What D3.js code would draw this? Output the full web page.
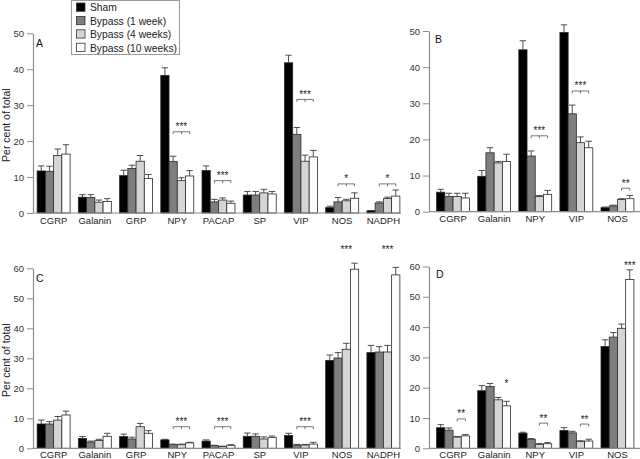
<!DOCTYPE html>
<html><head><meta charset="utf-8">
<script src="https://cdn.jsdelivr.net/npm/d3@7"></script>
<style>
body{margin:0;background:#fff}
svg{display:block}
text{font-family:"Liberation Sans",Arial,Helvetica,sans-serif}
</style>
</head><body>
<svg id="chart" width="640" height="459"></svg>
<script>
// ---------- data ----------
const seriesNames = ["Sham", "Bypass (1 week)", "Bypass (4 weeks)", "Bypass (10 weeks)"];
const seriesColors = ["#000000", "#7e7e7e", "#d5d5d5", "#ffffff"];

const categoriesAC = ["CGRP", "Galanin", "GRP", "NPY", "PACAP", "SP", "VIP", "NOS", "NADPH"];
const categoriesBD = ["CGRP", "Galanin", "NPY", "VIP", "NOS"];

// Panel A
const shamA  = [11.7, 4.4, 10.4, 38.3, 11.8, 5.0, 41.8, 1.5, 0.6];
const wk1A   = [11.6, 4.3, 12.4, 14.3, 3.1, 5.0, 21.9, 3.1, 2.8];
const wk4A   = [16.0, 3.0, 14.4, 9.0, 3.6, 5.6, 14.4, 3.4, 4.0];
const wk10A  = [16.4, 3.2, 9.6, 10.3, 2.7, 5.3, 15.6, 4.1, 4.7];
const shamA_sem = [1.4, 0.7, 1.5, 2.1, 1.3, 1.0, 2.1, 0.4, 0.1];
const wk1A_sem  = [1.4, 0.8, 0.9, 1.5, 0.7, 1.0, 1.9, 1.2, 0.3];
const wk4A_sem  = [1.8, 0.6, 1.6, 0.8, 0.6, 1.0, 1.7, 0.4, 0.4];
const wk10A_sem = [2.6, 0.8, 1.1, 1.5, 0.6, 0.7, 1.8, 1.5, 1.7];

// Panel B
const shamB  = [5.4, 9.8, 44.8, 49.6, 1.1];
const wk1B   = [4.2, 16.3, 15.4, 27.1, 1.6];
const wk4B   = [4.2, 13.5, 4.2, 19.1, 3.4];
const wk10B  = [3.8, 13.9, 4.8, 17.7, 3.6];
const shamB_sem = [0.8, 1.6, 2.5, 2.1, 0.2];
const wk1B_sem  = [0.9, 1.4, 1.4, 2.4, 0.2];
const wk4B_sem  = [0.9, 0.4, 0.3, 1.6, 0.2];
const wk10B_sem = [1.3, 2.0, 1.1, 1.8, 0.9];

// Panel C
const shamC  = [8.1, 3.3, 3.9, 2.8, 2.4, 4.0, 4.3, 29.3, 31.9];
const wk1C   = [8.1, 2.1, 3.1, 1.2, 0.9, 4.0, 1.1, 30.1, 32.1];
const wk4C   = [9.4, 2.6, 7.2, 1.2, 0.6, 3.1, 1.1, 33.0, 32.1];
const wk10C  = [11.1, 4.0, 5.0, 1.8, 1.0, 3.6, 1.4, 59.7, 57.8];
const shamC_sem = [1.3, 0.6, 0.8, 0.2, 0.4, 1.1, 0.7, 1.8, 2.4];
const wk1C_sem  = [0.8, 0.3, 0.6, 0.2, 0.1, 0.8, 0.2, 1.8, 1.8];
const wk4C_sem  = [1.2, 0.4, 1.1, 0.2, 0.1, 0.7, 0.2, 2.0, 2.2];
const wk10C_sem = [1.3, 1.0, 0.9, 0.2, 0.2, 0.5, 0.6, 2.0, 2.5];

// Panel D
const shamD  = [6.8, 19.0, 5.0, 5.9, 33.6];
const wk1D   = [6.0, 20.4, 3.0, 5.1, 36.7];
const wk4D   = [3.7, 16.0, 1.3, 2.3, 39.6];
const wk10D  = [4.1, 14.0, 1.5, 2.4, 55.7];
const shamD_sem = [1.0, 1.7, 0.3, 0.9, 2.2];
const wk1D_sem  = [0.7, 1.0, 0.2, 0.5, 1.5];
const wk4D_sem  = [0.2, 0.8, 0.3, 0.2, 1.4];
const wk10D_sem = [0.4, 1.5, 0.4, 0.6, 3.2];

const yTicks50 = [0, 10, 20, 30, 40, 50];
const yTicks60 = [0, 10, 20, 30, 40, 50, 60];

// significance marks: category, first and last series, level (data units), label, bracket?
const sigA = [
  {cat: "NPY",   from: 1, to: 3, level: 22.6, label: "***", bracket: true},
  {cat: "PACAP", from: 1, to: 3, level: 9.0,  label: "***", bracket: true},
  {cat: "VIP",   from: 1, to: 3, level: 31.6, label: "***", bracket: true},
  {cat: "NOS",   from: 1, to: 3, level: 8.1,  label: "*",   bracket: true},
  {cat: "NADPH", from: 1, to: 3, level: 8.1,  label: "*",   bracket: true}
];
const sigB = [
  {cat: "NPY", from: 1, to: 3, level: 21.0, label: "***", bracket: true},
  {cat: "VIP", from: 1, to: 3, level: 33.4, label: "***", bracket: true},
  {cat: "NOS", from: 2, to: 3, level: 6.5,  label: "**",  bracket: true}
];
const sigC = [
  {cat: "NPY",   from: 1, to: 3, level: 7.2,  label: "***", bracket: true},
  {cat: "PACAP", from: 1, to: 3, level: 7.2,  label: "***", bracket: true},
  {cat: "VIP",   from: 1, to: 3, level: 7.2,  label: "***", bracket: true},
  {cat: "NOS",   from: 1, to: 3, level: 64.6, label: "***", bracket: false},
  {cat: "NADPH", from: 1, to: 3, level: 64.6, label: "***", bracket: false}
];
const sigD = [
  {cat: "CGRP",    from: 2, to: 3, level: 9.7,  label: "**",  bracket: true},
  {cat: "Galanin", from: 3, to: 3, level: 19.6, label: "*",   bracket: false},
  {cat: "NPY",     from: 2, to: 3, level: 8.3,  label: "**",  bracket: true},
  {cat: "VIP",     from: 2, to: 3, level: 8.0,  label: "**",  bracket: true},
  {cat: "NOS",     from: 3, to: 3, level: 58.7, label: "***", bracket: false}
];

// ---------- layout ----------
const panels = [
  {name: "A", cats: categoriesAC, means: [shamA, wk1A, wk4A, wk10A], sems: [shamA_sem, wk1A_sem, wk4A_sem, wk10A_sem],
   ticks: yTicks50, sig: sigA, axisX: 33, bandL: 33, bandR: 404, baseEnd: 401, yTop: 33.3, yBottom: 213,
   letterX: 36, letterY: 47.3, title: true, labPad: 4},
  {name: "B", cats: categoriesBD, means: [shamB, wk1B, wk4B, wk10B], sems: [shamB_sem, wk1B_sem, wk4B_sem, wk10B_sem],
   ticks: yTicks50, sig: sigB, axisX: 429, bandL: 432.5, bandR: 638, baseEnd: 640, yTop: 31, yBottom: 211.7,
   letterX: 435, letterY: 42.7, title: false, labPad: 4},
  {name: "C", cats: categoriesAC, means: [shamC, wk1C, wk4C, wk10C], sems: [shamC_sem, wk1C_sem, wk4C_sem, wk10C_sem],
   ticks: yTicks60, sig: sigC, axisX: 33, bandL: 33, bandR: 404, baseEnd: 401, yTop: 268.3, yBottom: 448.3,
   letterX: 36, letterY: 282.3, title: true, labPad: 2.5},
  {name: "D", cats: categoriesBD, means: [shamD, wk1D, wk4D, wk10D], sems: [shamD_sem, wk1D_sem, wk4D_sem, wk10D_sem],
   ticks: yTicks60, sig: sigD, axisX: 429, bandL: 432.5, bandR: 638, baseEnd: 640, yTop: 266.5, yBottom: 448.3,
   letterX: 436, letterY: 278.3, title: false, labPad: 2.5}
];

const svg = d3.select("#chart");
const axisColor = "#8c8c8c";

panels.forEach(p => {
  const g = svg.append("g");
  const yMax = p.ticks[p.ticks.length - 1];
  const y = d3.scaleLinear().domain([0, yMax]).range([p.yBottom, p.yTop]);
  const x = d3.scaleBand().domain(p.cats).range([p.bandL, p.bandR]).paddingInner(0.2).paddingOuter(0.1);
  const xs = d3.scaleBand().domain(d3.range(4)).range([0, x.bandwidth()]);

  const rows = [];
  p.cats.forEach((c, i) => {
    for (let s = 0; s < 4; s++) rows.push({cat: c, s, v: p.means[s][i], e: p.sems[s][i]});
  });

  // bars
  g.selectAll("rect.bar").data(rows).join("rect")
    .attr("class", "bar")
    .attr("x", d => x(d.cat) + xs(d.s))
    .attr("width", xs.bandwidth())
    .attr("y", d => y(d.v))
    .attr("height", d => y(0) - y(d.v))
    .attr("fill", d => seriesColors[d.s])
    .attr("stroke", "#2a2a2a")
    .attr("stroke-width", 0.8);

  // error bars
  const cx = d => x(d.cat) + xs(d.s) + xs.bandwidth() / 2;
  const eg = g.append("g").attr("stroke", "#3a3a3a").attr("stroke-width", 0.9);
  eg.selectAll("line.ev").data(rows).join("line")
    .attr("x1", cx).attr("x2", cx)
    .attr("y1", d => y(d.v)).attr("y2", d => y(d.v + d.e));
  eg.selectAll("line.ec").data(rows).join("line")
    .attr("x1", d => cx(d) - 3.2).attr("x2", d => cx(d) + 3.2)
    .attr("y1", d => y(d.v + d.e)).attr("y2", d => y(d.v + d.e));

  // y axis
  const ya = g.append("g").attr("transform", `translate(${p.axisX},0)`)
    .call(d3.axisLeft(y).tickValues(p.ticks).tickFormat(d3.format("d")).tickSize(6).tickSizeOuter(0).tickPadding(3));
  ya.select(".domain").attr("stroke", axisColor).attr("stroke-width", 1.2);
  ya.selectAll(".tick line").attr("stroke", axisColor);
  ya.selectAll(".tick text").attr("fill", "#333").style("font-size", "9.5px")
    .style("font-family", "'Liberation Sans', Arial, sans-serif");

  // x axis
  const xa = g.append("g").attr("transform", `translate(0,${p.yBottom})`)
    .call(d3.axisBottom(x).tickSize(0).tickPadding(p.labPad));
  xa.select(".domain").remove();
  xa.selectAll(".tick text").attr("fill", "#222").style("font-size", "9.5px")
    .style("font-family", "'Liberation Sans', Arial, sans-serif");
  g.append("line")
    .attr("x1", p.axisX).attr("x2", p.baseEnd)
    .attr("y1", p.yBottom).attr("y2", p.yBottom)
    .attr("stroke", axisColor).attr("stroke-width", 1.2);

  // significance marks
  const sc = (cat, s) => x(cat) + xs(s) + xs.bandwidth() / 2;
  p.sig.forEach(m => {
    const x1 = sc(m.cat, m.from), x2 = sc(m.cat, m.to), yy = y(m.level);
    if (m.bracket) {
      g.append("line").attr("x1", x1).attr("x2", x2).attr("y1", yy).attr("y2", yy)
        .attr("stroke", "#555").attr("stroke-width", 0.8);
      d3.range(m.from, m.to + 1).forEach(s => {
        const xx = sc(m.cat, s);
        g.append("line").attr("x1", xx).attr("x2", xx).attr("y1", yy).attr("y2", yy + 2.5)
          .attr("stroke", "#555").attr("stroke-width", 0.8);
      });
    }
    g.append("text").attr("x", (x1 + x2) / 2).attr("y", yy - 1.5)
      .attr("text-anchor", "middle").style("font-size", "10px").attr("fill", "#222")
      .text(m.label);
  });

  // panel letter
  g.append("text").attr("x", p.letterX).attr("y", p.letterY)
    .style("font-size", "10.5px").attr("fill", "#111").text(p.name);

  // y title
  if (p.title) {
    g.append("text")
      .attr("transform", `translate(10,${(p.yTop + p.yBottom) / 2 + 2}) rotate(-90)`)
      .attr("text-anchor", "middle").style("font-size", "10.5px").attr("fill", "#222")
      .text("Per cent of total");
  }
});

// legend
const lg = svg.append("g");
lg.append("rect").attr("x", 71.5).attr("y", 0.5).attr("width", 108).attr("height", 54)
  .attr("fill", "#fff").attr("stroke", "#9a9a9a").attr("stroke-width", 1);
const li = lg.selectAll("g.item").data(seriesNames).join("g")
  .attr("transform", (d, i) => `translate(0,${11.3 + i * 13.4})`);
li.append("rect").attr("x", 76.5).attr("y", -8.3).attr("width", 8.5).attr("height", 8.3)
  .attr("fill", (d, i) => seriesColors[i]).attr("stroke", "#333").attr("stroke-width", 0.8);
li.append("text").attr("x", 90).attr("y", 0).style("font-size", "10.3px").attr("fill", "#222")
  .text(d => d);
</script>
</body></html>
